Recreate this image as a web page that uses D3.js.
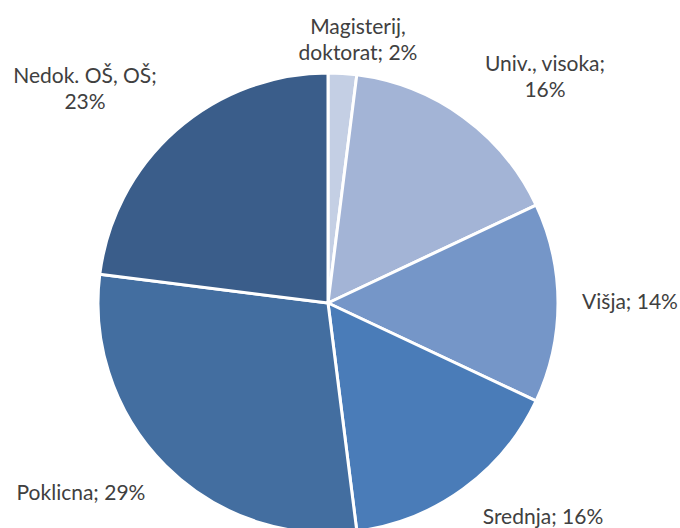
<!DOCTYPE html>
<html>
<head>
<meta charset="utf-8">
<script src="https://cdn.jsdelivr.net/npm/d3@7"></script>
<style>
  body { margin: 0; background: #fff; }
  text { font-family: Lato, "Open Sans", sans-serif; fill: #404040; }
</style>
</head>
<body>
<svg id="chart"></svg>
<script>
// education levels, clockwise from 12 o'clock
const categories = ['Magisterij, doktorat', 'Univ., visoka', 'Višja', 'Srednja', 'Poklicna', 'Nedok. OŠ, OŠ']
const values = [2, 16, 14, 16, 29, 23]
const colors = ['#c4cfe4', '#a3b4d6', '#7596c8', '#4a7cb8', '#436ea0', '#3a5d8a']
// how the label text is split into lines
const labelLines = [
    ['Magisterij,', 'doktorat; 2%'],
    ['Univ., visoka;', '16%'],
    ['Višja; 14%'],
    ['Srednja; 16%'],
    ['Poklicna; 29%'],
    ['Nedok. OŠ, OŠ;', '23%']
]

const width = 680
const height = 528
const cx = 328
const cy = 303
const R = 230

// label centres, outside the pie
const labelPos = [[358, 40], [545, 77], [630, 302], [543, 517], [81, 493], [85, 89]]

let svg = d3.select('#chart').attr('width', width).attr('height', height)

let data = categories.map((c, i) => ({ name: c, value: values[i], color: colors[i], lines: labelLines[i] }))

let pie = d3.pie().value(d => d.value).sort(null)
let arc = d3.arc().innerRadius(0).outerRadius(R)

let g = svg.append('g').attr('transform', `translate(${cx},${cy})`)

g.selectAll('path').data(pie(data)).enter()
    .append('path')
    .attr('d', arc)
    .attr('fill', d => d.data.color)
    .attr('stroke', '#fff')
    .attr('stroke-width', 3)
    .attr('stroke-linejoin', 'round')

let lh = 26
svg.selectAll('text.label').data(data).enter()
    .append('text')
    .attr('class', 'label')
    .attr('text-anchor', 'middle')
    .attr('font-size', 21)
    .each(function (d, i) {
        let [x, y] = labelPos[i]
        let n = d.lines.length
        d3.select(this).selectAll('tspan').data(d.lines).enter()
            .append('tspan')
            .attr('x', x)
            .attr('y', (l, k) => y + (k - (n - 1) / 2) * lh)
            .attr('dy', '0.35em')
            .text(l => l)
    })
</script>
</body>
</html>
